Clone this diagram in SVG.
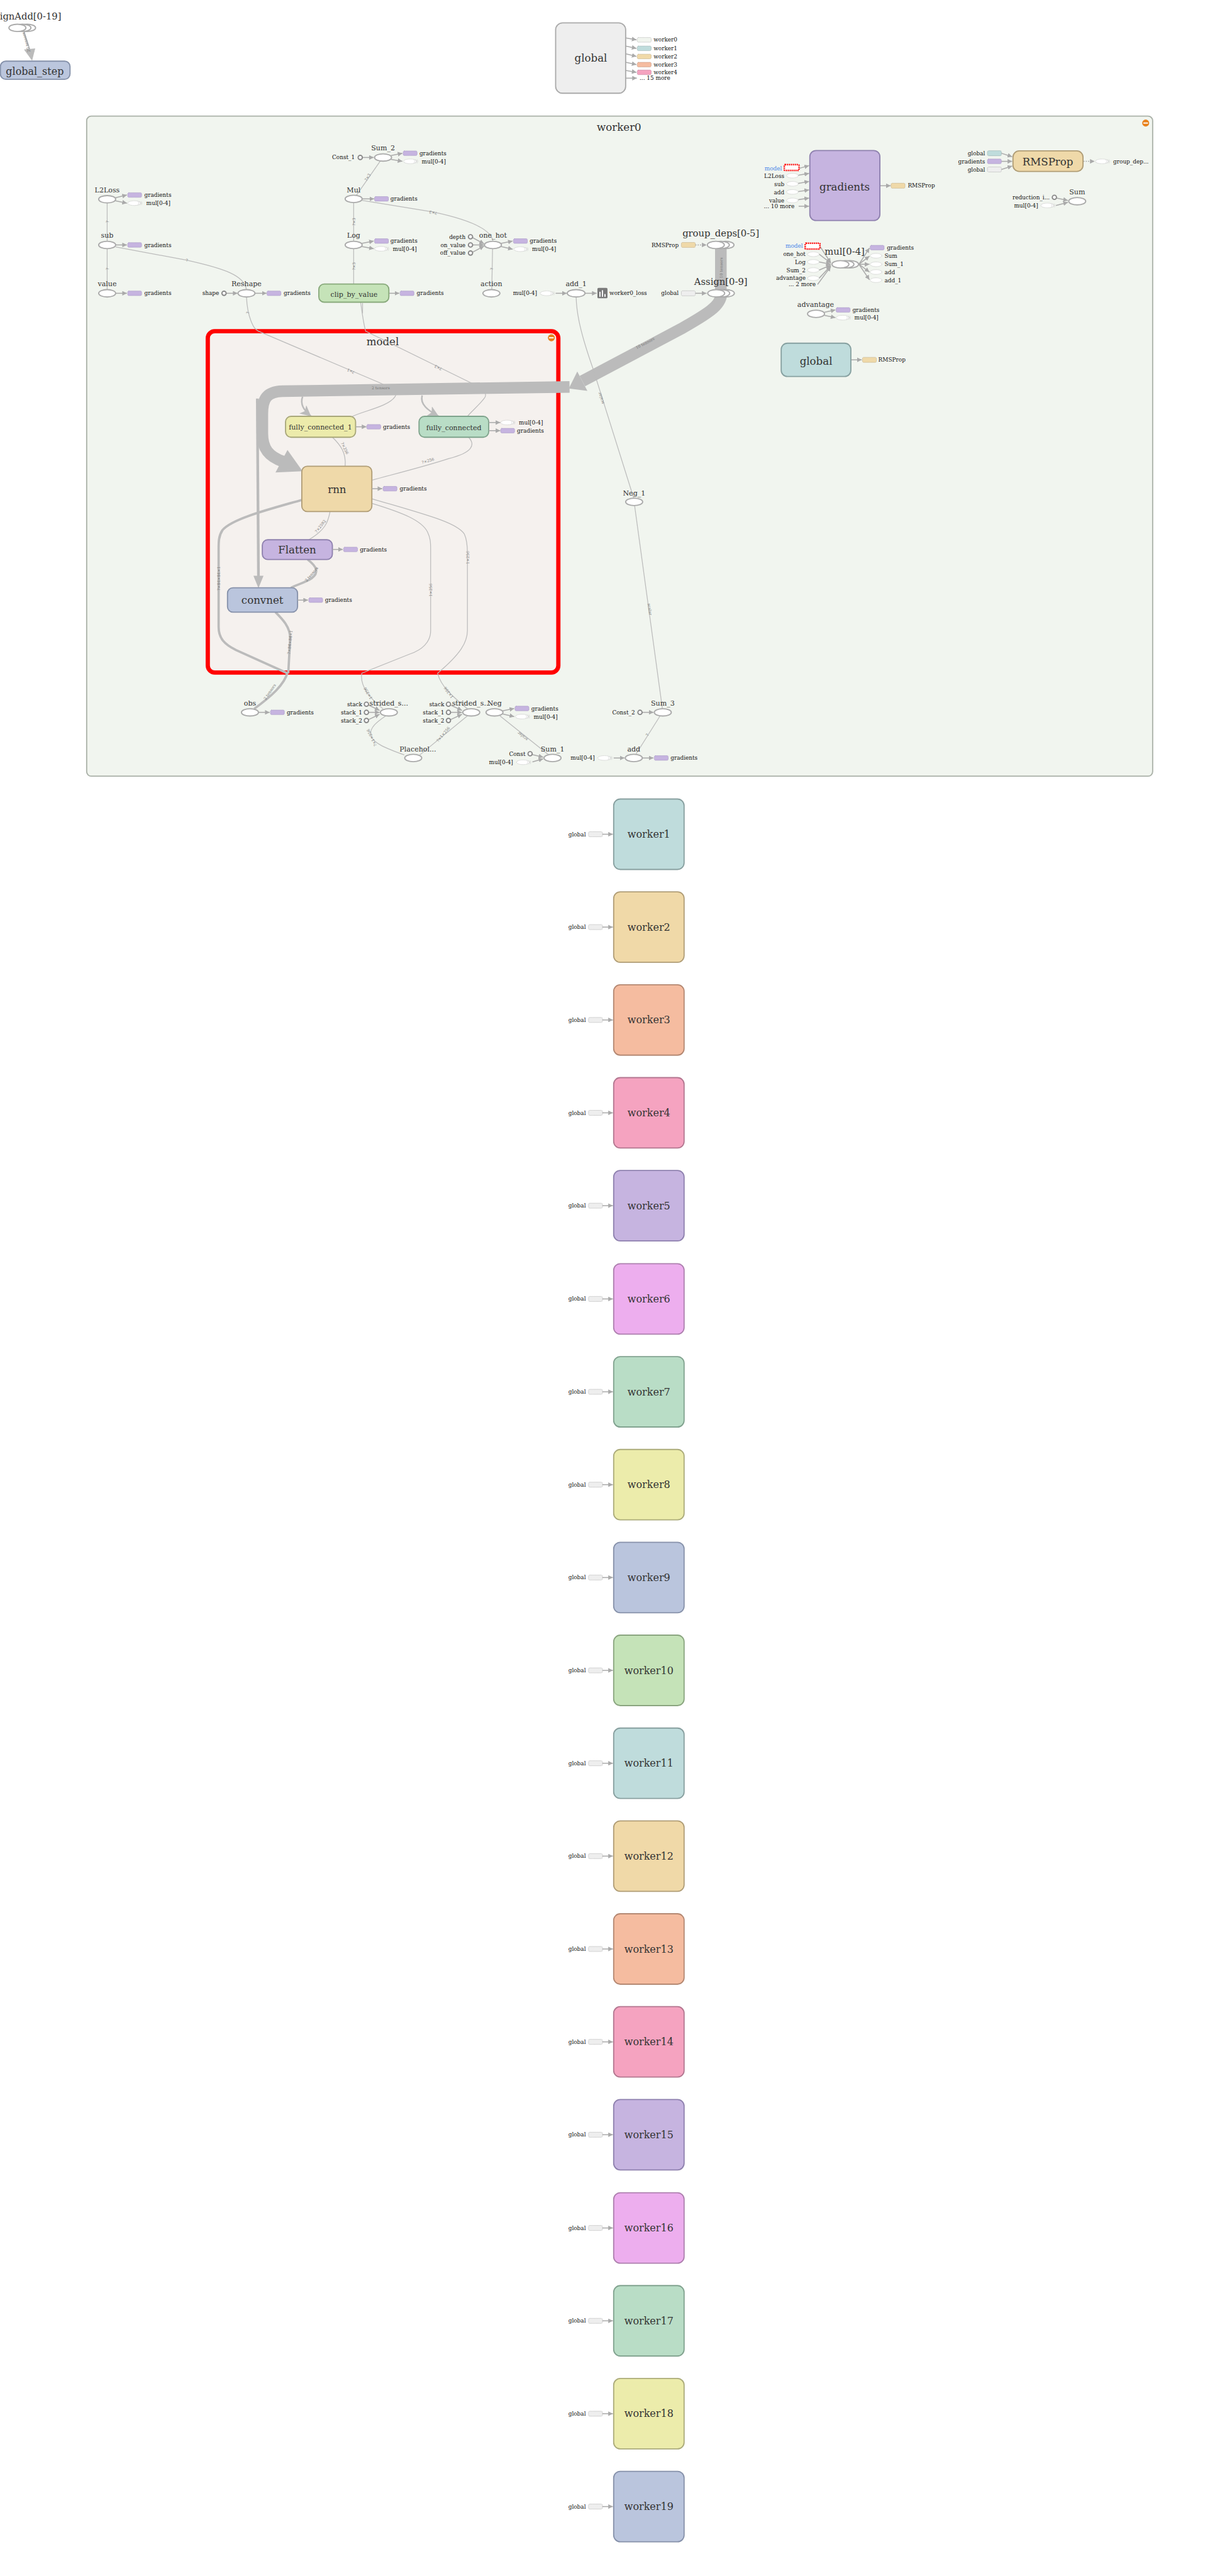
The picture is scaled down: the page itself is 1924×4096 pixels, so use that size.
<svg xmlns="http://www.w3.org/2000/svg" width="1924" height="4096" viewBox="0 0 1924 4096">
<style>
text{font-family:'DejaVu Serif','Liberation Serif',serif}
.e{fill:none;stroke:#bbb;stroke-width:2}
.a{fill:none;stroke:#aaa;stroke-width:2.5;marker-end:url(#ah)}
.d{fill:none;stroke:#aaa;stroke-width:2.5;stroke-dasharray:3 3;marker-end:url(#ah)}
.t6{fill:none;stroke:#bbb;stroke-width:6}
.band{fill:none;stroke:#bbb;stroke-width:30}
.op{fill:#fff;stroke:#aaa;stroke-width:3}
.k{fill:#fff;stroke:#888;stroke-width:3}
.nl{font-size:18px;fill:#333;text-anchor:middle}
.sl{font-size:24px;fill:#333;text-anchor:middle}
.ml{font-size:27px;fill:#333;text-anchor:middle}
.wl{font-size:26px;fill:#333;text-anchor:middle}
.lb{font-size:14.5px;fill:#111}
.r{text-anchor:end}
.el{font-size:10px;fill:#777;text-anchor:middle}
.wk{stroke-width:3}
</style>
<defs>
<marker id="ah" viewBox="0 0 10 10" refX="10" refY="5" markerWidth="12" markerHeight="12" markerUnits="userSpaceOnUse" orient="auto"><path d="M0,0L10,5L0,10z" fill="#aaa"/></marker>
<marker id="ahb" viewBox="0 0 10 10" refX="10" refY="5" markerWidth="28" markerHeight="28" markerUnits="userSpaceOnUse" orient="auto"><path d="M0,0L10,5L0,10L2.5,5z" fill="#bbb"/></marker>
<g id="cg"><rect x="-18" y="-6" width="36" height="12" rx="3" fill="#c6b4e0" stroke="#9a8cbb" stroke-width="1.3" stroke-dasharray="2 1.5"/></g>
<g id="cm"><ellipse cx="-3" rx="17" ry="6" fill="#fff" stroke="#bbb" stroke-width="1.3" stroke-dasharray="2 1.5"/><path d="M7,-5q4,5 0,10M11,-5q4,5 0,10M15,-5q4,5 0,10" fill="none" stroke="#ccc" stroke-width="1"/></g>
<g id="co"><ellipse rx="15" ry="6" fill="#fff" stroke="#bbb" stroke-width="1.3" stroke-dasharray="2 1.5"/></g>
<g id="ct"><rect x="-18" y="-6.5" width="36" height="13" rx="3" fill="#efd9a9" stroke="#b9a27a" stroke-width="1.3" stroke-dasharray="2 1.5"/></g>
<g id="cgl"><rect x="-18" y="-6.5" width="36" height="13" rx="3" fill="#eee" stroke="#aaa" stroke-width="1.3" stroke-dasharray="2 1.5"/></g>
<g id="cte"><rect x="-18" y="-6.5" width="36" height="13" rx="3" fill="#bfdcdc" stroke="#87a0a0" stroke-width="1.3" stroke-dasharray="2 1.5"/></g>
<g id="cmod"><rect x="-19" y="-7.5" width="38" height="15" rx="2" fill="#fff" stroke="#f00" stroke-width="4" stroke-dasharray="3 2"/></g>
<g id="stk"><ellipse cx="25" rx="22" ry="9.5" class="op"/><ellipse cx="13" rx="22" ry="9.5" class="op"/><ellipse rx="22" ry="9.5" class="op"/></g>
</defs>
<rect width="1924" height="4096" fill="#fff"/>
<g transform="scale(0.61525)">

<!-- containers -->
<g id="worker0">
<rect x="224" y="300" width="2755" height="1706" rx="12" fill="#f1f5ef" stroke="#aab1a8" stroke-width="3"/>
<text class="ml" x="1600" y="338">worker0</text>
<circle cx="2961" cy="318" r="9" fill="#e8821e"/><rect x="2955" y="316.5" width="12" height="3" fill="#fff"/>
</g>
<g id="model">
<rect x="537" y="856" width="906" height="882" rx="18" fill="#f5f1ee" stroke="#f00" stroke-width="11"/>
<text class="ml" x="989" y="893" font-size="26">model</text>
<circle cx="1425" cy="873" r="9" fill="#e8821e"/><rect x="1419" y="871.5" width="12" height="3" fill="#fff"/>
</g>

<g id="connectors">
<!-- top-left -->
<path d="M62 83L78 132" fill="none" stroke="#bbb" stroke-width="3.5"/>
<polygon points="62,128 91,125 83,157" fill="#bbb"/>
<text class="el" transform="rotate(-106,71,108)" x="71" y="108">20 tensors</text>
<!-- global outputs -->
<path class="a" d="M1617 98L1645 103"/><path class="a" d="M1617 119L1645 125"/><path class="a" d="M1617 139L1645 146"/><path class="a" d="M1617 161L1645 167"/><path class="a" d="M1617 182L1645 187"/><path class="a" d="M1617 202L1646 202"/>
<!-- left column -->
<path class="a" d="M298 511L328 504"/><path class="a" d="M298 519L328 525"/>
<path class="a" d="M299 633L328 633"/><path class="a" d="M299 758L328 758"/>
<path class="e" d="M277 524L277 624"/><text class="el" transform="rotate(-90,281,573)" x="281" y="573">?</text>
<path class="e" d="M277 642L277 749"/><text class="el" transform="rotate(-90,281,695)" x="281" y="695">?</text>
<path class="e" d="M299 638L480 672C580 694 632 712 637 749"/><text class="el" x="483" y="676">?</text>
<path class="a" d="M585 758L614 758"/><path class="a" d="M659 758L689 758"/>
<!-- middle column -->
<path class="a" d="M937 407L966 407"/><path class="a" d="M1011 402L1040 396"/><path class="a" d="M1011 412L1040 417"/>
<path class="a" d="M936 514L967 514"/>
<path class="e" d="M921 505L983 416"/><text class="el" transform="rotate(-58,953,460)" x="953" y="460">?×3</text>
<path class="e" d="M936 518L1120 548C1200 565 1270 590 1274 624"/><text class="el" transform="rotate(190,1120,546)" x="1120" y="546">?×3</text>
<path class="e" d="M914 523L914 624"/><text class="el" transform="rotate(-90,918,573)" x="918" y="573">?×3</text>
<path class="a" d="M935 629L966 623"/><path class="a" d="M935 637L966 643"/>
<path class="e" d="M914 642L914 734"/><text class="el" transform="rotate(-90,918,688)" x="918" y="688">?×3</text>
<path class="a" d="M1005 758L1032 758"/>
<path class="a" d="M1221 614L1251 630"/><path class="a" d="M1222 633L1251 633"/><path class="a" d="M1221 652L1251 636"/>
<path class="a" d="M1295 629L1325 623"/><path class="a" d="M1295 637L1325 644"/>
<path class="e" d="M1273 642L1271 749"/><text class="el" transform="rotate(-90,1275,695)" x="1275" y="695">?</text>
<path class="a" d="M1436 758L1465 758"/><path class="a" d="M1512 758L1542 758"/>
<!-- group_deps / Assign -->
<path class="d" d="M1797 633L1826 633"/><path class="a" d="M1797 758L1826 758"/>
<path class="band" d="M1863 642L1863 750"/>
<text class="el" transform="rotate(-90,1867,692)" x="1867" y="692">10 tensors</text>
<path class="band" d="M1864 762C1862 790 1830 810 1760 850L1505 985"/>
<polygon points="1470,1004 1492,960 1518,1010" fill="#bbb"/>
<text class="el" transform="rotate(-28,1669,890)" x="1669" y="890">10 tensors</text>
<!-- gradients inputs / outputs -->
<path class="a" d="M2066 435L2091 428"/><path class="a" d="M2063 453L2091 448"/><path class="a" d="M2063 474L2091 469"/><path class="a" d="M2063 495L2091 491"/><path class="a" d="M2063 516L2091 512"/><path class="a" d="M2064 533L2091 533"/>
<path class="a" d="M2274 480L2302 480"/>
<path class="a" d="M2588 396L2616 405"/><path class="a" d="M2588 417L2616 417"/><path class="a" d="M2588 438L2616 429"/>
<path class="d" d="M2800 417L2829 417"/>
<path class="a" d="M2731 512L2760 518"/><path class="a" d="M2729 531L2760 523"/>
<!-- mul[0-4] -->
<path class="a" d="M2120 638L2147 679"/><path class="a" d="M2117 657L2147 680"/><path class="a" d="M2117 677L2147 683"/><path class="a" d="M2117 698L2147 685"/><path class="a" d="M2117 719L2147 687"/><path class="a" d="M2113 735L2147 689"/>
<path class="a" d="M2220 683L2247 641"/><path class="a" d="M2220 683L2247 662"/><path class="a" d="M2220 683L2247 683"/><path class="a" d="M2220 683L2247 703"/><path class="a" d="M2220 683L2247 723"/>
<path class="a" d="M2131 807L2159 801"/><path class="a" d="M2131 815L2159 821"/>
<path class="a" d="M2199 930L2227 930"/>
<!-- model internals -->
<path class="e" d="M637 767C638 790 642 815 651 835C655 845 660 852 668 856L981 989C1010 1002 1030 1012 1021 1025C1005 1050 940 1062 911 1076"/>
<text class="el" transform="rotate(203,908,956)" x="908" y="956">?×1</text>
<text class="el" transform="rotate(-90,643,808)" x="643" y="808">?</text>
<path class="e" d="M932 781C935 800 938 830 945 856L1208 985C1240 1000 1265 1015 1251 1030C1240 1045 1220 1062 1208 1076"/>
<text class="el" transform="rotate(206,1134,947)" x="1134" y="947">?×3</text>
<path class="e" d="M937 783L937 810" />
<path class="band" d="M1472 1000L730 1011C690 1012 678 1030 678 1070L678 1120C678 1160 695 1180 732 1193"/>
<polygon points="743,1163 782,1218 712,1221" fill="#bbb"/>
<text class="el" x="984" y="1006">2 tensors</text>
<path d="M665 1030L668 1495" fill="none" stroke="#bbb" stroke-width="7"/>
<polygon points="655,1488 681,1488 668,1520" fill="#bbb"/>
<path d="M782 1025C775 1045 785 1060 804 1076" fill="none" stroke="#bbb" stroke-width="4" marker-end="url(#ahb)"/>
<path d="M1091 1022C1085 1045 1105 1060 1134 1076" fill="none" stroke="#bbb" stroke-width="4" marker-end="url(#ahb)"/>
<path class="e" d="M859 1130C880 1150 895 1170 892 1205"/><text class="el" transform="rotate(65,888,1160)" x="888" y="1160">?×256</text>
<path class="e" d="M1211 1130C1230 1150 1220 1170 1160 1185C1100 1205 1000 1230 961 1241"/><text class="el" transform="rotate(-16,1107,1194)" x="1107" y="1194">?×256</text>
<path class="e" d="M853 1322C848 1350 840 1370 798 1395"/><text class="el" transform="rotate(-52,831,1362)" x="831" y="1362">?×2592</text>
<path class="t6" d="M795 1446C820 1465 825 1480 805 1495C790 1505 770 1510 752 1519"/><text class="el" transform="rotate(-50,808,1486)" x="808" y="1486">2 tensors</text>
<path class="t6" d="M780 1292C700 1315 600 1340 575 1370C565 1385 565 1400 565 1420L565 1620C565 1650 580 1665 610 1680L743 1740"/>
<text class="el" transform="rotate(-90,569,1495)" x="569" y="1495">?×84×84×1</text>
<path class="t6" d="M712 1582C730 1600 750 1620 750 1650L745 1740"/>
<text class="el" transform="rotate(-84,753,1660)" x="753" y="1660">?×84×84×1</text>
<path class="t6" d="M743 1738C735 1770 700 1800 657 1832"/><text class="el" transform="rotate(-55,700,1790)" x="700" y="1790">2 tensors</text>
<path class="a" d="M668 1841L697 1841"/>
<path class="e" d="M961 1301C1040 1325 1090 1345 1105 1375C1112 1390 1113 1400 1113 1420L1113 1630C1113 1660 1090 1680 1060 1690L935 1740C930 1770 950 1800 990 1832"/>
<text class="el" transform="rotate(-90,1117,1525)" x="1117" y="1525">1×256</text>
<text class="el" transform="rotate(240,954,1790)" x="954" y="1790">1×256</text>
<path class="e" d="M961 1289C1100 1330 1180 1350 1200 1380C1207 1395 1208 1410 1208 1430L1208 1630C1208 1660 1190 1690 1131 1740C1140 1775 1170 1800 1208 1832"/>
<text class="el" transform="rotate(-90,1212,1441)" x="1212" y="1441">1×256</text>
<text class="el" transform="rotate(235,1162,1788)" x="1162" y="1788">1×256</text>
<!-- bottom -->
<path class="a" d="M952 1822L981 1836"/><path class="a" d="M953 1841L981 1841"/><path class="a" d="M952 1860L981 1846"/>
<path class="a" d="M1164 1822L1194 1836"/><path class="a" d="M1165 1841L1194 1841"/><path class="a" d="M1164 1860L1194 1846"/>
<path class="e" d="M997 1850C975 1865 955 1880 958 1900C962 1920 1000 1935 1045 1951"/><text class="el" transform="rotate(245,964,1905)" x="964" y="1905">?×1×256</text>
<path class="e" d="M1208 1850L1085 1951"/><text class="el" transform="rotate(-50,1148,1900)" x="1148" y="1900">?×1×256</text>
<path class="a" d="M1299 1837L1329 1831"/><path class="a" d="M1299 1845L1329 1852"/>
<path class="e" d="M1292 1850L1418 1951"/><text class="el" transform="rotate(219,1353,1900)" x="1353" y="1900">scalar</text>
<path class="a" d="M1375 1950L1404 1957"/><path class="a" d="M1376 1969L1404 1961"/>
<path class="a" d="M1586 1959L1614 1959"/><path class="a" d="M1661 1959L1689 1959"/>
<path class="e" d="M1643 1950L1706 1850"/><text class="el" transform="rotate(-60,1676,1901)" x="1676" y="1901">?</text>
<path class="a" d="M1660 1841L1689 1841"/>
<path class="e" d="M1489 767C1490 810 1500 860 1532 951L1638 1288"/><text class="el" transform="rotate(253,1557,1028)" x="1557" y="1028">scalar</text>
<path class="e" d="M1640 1306L1712 1832"/><text class="el" transform="rotate(82,1676,1575)" x="1676" y="1575">scalar</text>
<!-- workers -->
<path class="a" d="M1557 2156H1584"/><path class="a" d="M1557 2396H1584"/><path class="a" d="M1557 2636H1584"/><path class="a" d="M1557 2876H1584"/><path class="a" d="M1557 3116H1584"/><path class="a" d="M1557 3357H1584"/><path class="a" d="M1557 3597H1584"/><path class="a" d="M1557 3837H1584"/><path class="a" d="M1557 4077H1584"/><path class="a" d="M1557 4317H1584"/><path class="a" d="M1557 4557H1584"/><path class="a" d="M1557 4797H1584"/><path class="a" d="M1557 5037H1584"/><path class="a" d="M1557 5277H1584"/><path class="a" d="M1557 5517H1584"/><path class="a" d="M1557 5758H1584"/><path class="a" d="M1557 5998H1584"/><path class="a" d="M1557 6238H1584"/><path class="a" d="M1557 6478H1584"/>
</g>

<!-- top-left -->
<g id="AssignAdd"><use href="#stk" x="45" y="72"/><text class="sl" x="58" y="51" font-size="23">AssignAdd[0-19]</text></g>
<g id="global_step"><rect x="1" y="158" width="180" height="47" rx="14" fill="#bbc6dd" stroke="#8591aa" stroke-width="3"/><text class="wl" x="90" y="193">global_step</text></g>

<g id="global"><rect x="1436" y="59" width="181" height="182" rx="18" fill="#eee" stroke="#aaa" stroke-width="3"/><text class="ml" x="1527" y="160" font-size="28">global</text>
<rect x="1647" y="97" width="36" height="12" rx="3" fill="#f1f5ef" stroke="#aaa" stroke-width="1.3" stroke-dasharray="2 1.5"/>
<rect x="1647" y="119" width="36" height="12" rx="3" fill="#bfdcdc" stroke="#87a0a0" stroke-width="1.3" stroke-dasharray="2 1.5"/>
<rect x="1647" y="140" width="36" height="12" rx="3" fill="#f0d9a8" stroke="#b09d76" stroke-width="1.3" stroke-dasharray="2 1.5"/>
<rect x="1647" y="161" width="36" height="12" rx="3" fill="#f5bca0" stroke="#b48872" stroke-width="1.3" stroke-dasharray="2 1.5"/>
<rect x="1647" y="181" width="36" height="12" rx="3" fill="#f5a3c0" stroke="#b37790" stroke-width="1.3" stroke-dasharray="2 1.5"/>
<text class="lb" x="1689" y="108">worker0</text><text class="lb" x="1689" y="130">worker1</text><text class="lb" x="1689" y="151">worker2</text><text class="lb" x="1689" y="172">worker3</text><text class="lb" x="1689" y="192">worker4</text><text class="lb" x="1653" y="207">... 15 more</text>
</g>

<!-- worker0 left -->
<g id="L2Loss"><ellipse class="op" cx="277" cy="515" rx="22" ry="9.5"/><text class="nl" x="277" y="497">L2Loss</text>
<use href="#cg" x="348" y="504"/><text class="lb" x="373" y="509">gradients</text><use href="#cm" x="350" y="525"/><text class="lb" x="378" y="530">mul[0-4]</text></g>
<g id="sub"><ellipse class="op" cx="277" cy="633" rx="22" ry="9.5"/><text class="nl" x="277" y="615">sub</text>
<use href="#cg" x="348" y="633"/><text class="lb" x="373" y="638">gradients</text></g>
<g id="value"><ellipse class="op" cx="277" cy="758" rx="22" ry="9.5"/><text class="nl" x="277" y="740">value</text>
<use href="#cg" x="348" y="758"/><text class="lb" x="373" y="763">gradients</text></g>
<g id="Reshape"><ellipse class="op" cx="637" cy="758" rx="22" ry="9.5"/><text class="nl" x="637" y="740">Reshape</text>
<circle class="k" cx="579" cy="758" r="5.5"/><text class="lb r" x="566" y="763">shape</text>
<use href="#cg" x="708" y="758"/><text class="lb" x="733" y="763">gradients</text></g>
<g id="Sum_2"><ellipse class="op" cx="990" cy="407" rx="22" ry="9.5"/><text class="nl" x="990" y="389">Sum_2</text>
<circle class="k" cx="931" cy="407" r="5.5"/><text class="lb r" x="917" y="412">Const_1</text>
<use href="#cg" x="1060" y="396"/><text class="lb" x="1084" y="401">gradients</text><use href="#cm" x="1063" y="417"/><text class="lb" x="1090" y="422">mul[0-4]</text></g>
<g id="Mul"><ellipse class="op" cx="914" cy="514" rx="22" ry="9.5"/><text class="nl" x="914" y="497">Mul</text>
<use href="#cg" x="986" y="514"/><text class="lb" x="1009" y="519">gradients</text></g>
<g id="Log"><ellipse class="op" cx="914" cy="633" rx="22" ry="9.5"/><text class="nl" x="914" y="615">Log</text>
<use href="#cg" x="986" y="623"/><text class="lb" x="1009" y="628">gradients</text><use href="#cm" x="988" y="643"/><text class="lb" x="1015" y="648">mul[0-4]</text></g>
<g id="clip_by_value"><rect x="824" y="734" width="181" height="47" rx="14" fill="#c5e3b8" stroke="#88a97b" stroke-width="3"/><text class="nl" x="915" y="767" font-size="23">clip_by_value</text>
<use href="#cg" x="1052" y="758"/><text class="lb" x="1077" y="763">gradients</text></g>
<g id="one_hot"><ellipse class="op" cx="1274" cy="633" rx="22" ry="9.5"/><text class="nl" x="1274" y="615">one_hot</text>
<circle class="k" cx="1216" cy="612" r="5.5"/><circle class="k" cx="1216" cy="633" r="5.5"/><circle class="k" cx="1216" cy="654" r="5.5"/>
<text class="lb r" x="1203" y="617">depth</text><text class="lb r" x="1203" y="638">on_value</text><text class="lb r" x="1203" y="659">off_value</text>
<use href="#cg" x="1345" y="623"/><text class="lb" x="1369" y="628">gradients</text><use href="#cm" x="1348" y="644"/><text class="lb" x="1375" y="649">mul[0-4]</text></g>
<g id="action"><ellipse class="op" cx="1270" cy="758" rx="22" ry="9.5"/><text class="nl" x="1270" y="740">action</text></g>
<g id="add_1"><ellipse class="op" cx="1489" cy="758" rx="23" ry="9.5"/><text class="nl" x="1489" y="740">add_1</text>
<use href="#cm" x="1416" y="758"/><text class="lb r" x="1388" y="763">mul[0-4]</text>
<rect x="1544" y="744" width="26" height="27" rx="3" fill="#7a7a7a"/><rect x="1549" y="754" width="3" height="13" fill="#fff"/><rect x="1555.5" y="750" width="3" height="17" fill="#fff"/><rect x="1562" y="760" width="3" height="7" fill="#fff"/>
<text class="lb" x="1575" y="763">worker0_loss</text></g>
<g id="group_deps"><use href="#stk" x="1850" y="633"/><text class="sl" x="1863" y="611">group_deps[0-5]</text>
<use href="#ct" x="1779" y="633"/><text class="lb r" x="1754" y="638">RMSProp</text></g>
<g id="Assign"><use href="#stk" x="1851" y="758"/><text class="sl" x="1863" y="736">Assign[0-9]</text>
<use href="#cgl" x="1779" y="758"/><text class="lb r" x="1754" y="763">global</text></g>

<!-- right -->
<g id="gradients"><rect x="2093" y="389" width="181" height="181" rx="16" fill="#c6b4e0" stroke="#8e80ae" stroke-width="3"/><text class="ml" x="2183" y="492">gradients</text>
<text class="lb r" x="2021" y="440" fill="#4a86e8" style="fill:#4a86e8">model</text><use href="#cmod" x="2046" y="433"/>
<use href="#co" x="2048" y="454"/><text class="lb r" x="2027" y="460">L2Loss</text>
<use href="#co" x="2048" y="475"/><text class="lb r" x="2027" y="481">sub</text>
<use href="#co" x="2048" y="496"/><text class="lb r" x="2027" y="502">add</text>
<use href="#co" x="2048" y="518"/><text class="lb r" x="2027" y="523">value</text>
<text class="lb" x="1974" y="538">... 10 more</text>
<use href="#ct" x="2321" y="480"/><text class="lb" x="2346" y="485">RMSProp</text></g>
<g id="RMSProp"><rect x="2618" y="390" width="181" height="53" rx="16" fill="#efd9a9" stroke="#b09d76" stroke-width="3"/><text class="ml" x="2708" y="427">RMSProp</text>
<use href="#cte" x="2570" y="396"/><text class="lb r" x="2546" y="401">global</text>
<rect x="2552" y="411" width="36" height="12" rx="3" fill="#c6b4e0" stroke="#9a8cbb" stroke-width="1.3" stroke-dasharray="2 1.5"/><text class="lb r" x="2546" y="422">gradients</text>
<use href="#cgl" x="2570" y="438"/><text class="lb r" x="2546" y="443">global</text>
<use href="#cm" x="2851" y="417"/><text class="lb" x="2877" y="422">group_dep...</text></g>
<g id="Sum"><ellipse class="op" cx="2784" cy="520" rx="22" ry="9.5"/><text class="nl" x="2784" y="502">Sum</text>
<circle class="k" cx="2725" cy="510" r="5.5"/><text class="lb r" x="2713" y="515">reduction_i...</text>
<use href="#cm" x="2710" y="531"/><text class="lb r" x="2683" y="536">mul[0-4]</text></g>
<g id="mul"><use href="#stk" x="2172" y="683"/><text class="sl" x="2183" y="658">mul[0-4]</text>
<text class="lb r" x="2075" y="641" style="fill:#4a86e8">model</text><use href="#cmod" x="2100" y="636"/>
<use href="#co" x="2102" y="657"/><text class="lb r" x="2082" y="662">one_hot</text>
<use href="#co" x="2102" y="677"/><text class="lb r" x="2082" y="682">Log</text>
<use href="#co" x="2102" y="698"/><text class="lb r" x="2082" y="703">Sum_2</text>
<use href="#co" x="2102" y="719"/><text class="lb r" x="2082" y="724">advantage</text>
<text class="lb" x="2038" y="740">... 2 more</text>
<use href="#cg" x="2267" y="640"/><text class="lb" x="2292" y="645">gradients</text>
<use href="#co" x="2264" y="661"/><text class="lb" x="2286" y="666">Sum</text>
<use href="#co" x="2264" y="683"/><text class="lb" x="2286" y="688">Sum_1</text>
<use href="#co" x="2264" y="703"/><text class="lb" x="2286" y="708">add</text>
<use href="#co" x="2264" y="724"/><text class="lb" x="2286" y="729">add_1</text></g>
<g id="advantage"><ellipse class="op" cx="2109" cy="811" rx="22" ry="9.5"/><text class="nl" x="2108" y="793">advantage</text>
<use href="#cg" x="2179" y="801"/><text class="lb" x="2203" y="806">gradients</text><use href="#cm" x="2181" y="821"/><text class="lb" x="2208" y="826">mul[0-4]</text></g>
<g id="global_w0"><rect x="2019" y="887" width="180" height="86" rx="16" fill="#bfdcdc" stroke="#86a0a0" stroke-width="3"/><text class="ml" x="2109" y="943">global</text>
<use href="#ct" x="2247" y="930"/><text class="lb" x="2270" y="935">RMSProp</text></g>

<!-- model nodes -->
<g id="fully_connected_1"><rect x="738" y="1076" width="181" height="54" rx="14" fill="#ecebab" stroke="#a8a77a" stroke-width="3"/><text class="nl" x="828" y="1110" font-size="19">fully_connected_1</text>
<path class="a" d="M919 1103L947 1103"/><use href="#cg" x="966" y="1103"/><text class="lb" x="990" y="1108">gradients</text></g>
<g id="fully_connected"><rect x="1083" y="1076" width="180" height="54" rx="14" fill="#b9ddc6" stroke="#7fa38c" stroke-width="3"/><text class="nl" x="1173" y="1111" font-size="21">fully_connected</text>
<path class="a" d="M1263 1092L1293 1092"/><path class="a" d="M1263 1113L1293 1113"/>
<use href="#cm" x="1314" y="1092"/><text class="lb" x="1341" y="1097">mul[0-4]</text><use href="#cg" x="1312" y="1113"/><text class="lb" x="1336" y="1118">gradients</text></g>
<g id="rnn"><rect x="780" y="1205" width="181" height="117" rx="14" fill="#efd9a9" stroke="#b09d76" stroke-width="3"/><text class="ml" x="871" y="1274" font-size="30">rnn</text>
<path class="a" d="M961 1263L988 1263"/><use href="#cg" x="1008" y="1263"/><text class="lb" x="1033" y="1268">gradients</text></g>
<g id="Flatten"><rect x="678" y="1395" width="181" height="51" rx="14" fill="#c6b4e0" stroke="#8e80ae" stroke-width="3"/><text class="ml" x="768" y="1430">Flatten</text>
<path class="a" d="M859 1420L886 1420"/><use href="#cg" x="906" y="1420"/><text class="lb" x="930" y="1425">gradients</text></g>
<g id="convnet"><rect x="588" y="1519" width="181" height="63" rx="14" fill="#bac5dd" stroke="#8691aa" stroke-width="3"/><text class="ml" x="678" y="1560">convnet</text>
<path class="a" d="M769 1551L796 1551"/><use href="#cg" x="816" y="1551"/><text class="lb" x="840" y="1556">gradients</text></g>

<!-- below model -->
<g id="obs"><ellipse class="op" cx="646" cy="1841" rx="22" ry="9.5"/><text class="nl" x="646" y="1823">obs</text>
<use href="#cg" x="717" y="1841"/><text class="lb" x="741" y="1846">gradients</text></g>
<g id="strided_slice"><ellipse class="op" cx="1005" cy="1841" rx="22" ry="9.5"/><text class="nl" x="1005" y="1823">strided_s...</text>
<circle class="k" cx="947" cy="1820" r="5.5"/><circle class="k" cx="947" cy="1841" r="5.5"/><circle class="k" cx="947" cy="1862" r="5.5"/>
<text class="lb r" x="936" y="1825">stack</text><text class="lb r" x="936" y="1846">stack_1</text><text class="lb r" x="936" y="1867">stack_2</text></g>
<g id="strided_slice_1"><ellipse class="op" cx="1218" cy="1841" rx="22" ry="9.5"/><text class="nl" x="1218" y="1823">strided_s...</text>
<circle class="k" cx="1159" cy="1820" r="5.5"/><circle class="k" cx="1159" cy="1841" r="5.5"/><circle class="k" cx="1159" cy="1862" r="5.5"/>
<text class="lb r" x="1148" y="1825">stack</text><text class="lb r" x="1148" y="1846">stack_1</text><text class="lb r" x="1148" y="1867">stack_2</text></g>
<g id="Neg"><ellipse class="op" cx="1278" cy="1841" rx="22" ry="9.5"/><text class="nl" x="1278" y="1823">Neg</text>
<use href="#cg" x="1349" y="1831"/><text class="lb" x="1373" y="1836">gradients</text><use href="#cm" x="1352" y="1852"/><text class="lb" x="1379" y="1857">mul[0-4]</text></g>
<g id="Placeholder"><ellipse class="op" cx="1068" cy="1959" rx="22" ry="9.5"/><text class="nl" x="1080" y="1942">Placehol...</text></g>
<g id="Sum_1"><ellipse class="op" cx="1428" cy="1959" rx="22" ry="9.5"/><text class="nl" x="1428" y="1942">Sum_1</text>
<circle class="k" cx="1370" cy="1948" r="5.5"/><text class="lb r" x="1358" y="1953">Const</text>
<use href="#cm" x="1355" y="1970"/><text class="lb r" x="1326" y="1975">mul[0-4]</text></g>
<g id="add"><ellipse class="op" cx="1638" cy="1959" rx="22" ry="9.5"/><text class="nl" x="1638" y="1942">add</text>
<use href="#cm" x="1565" y="1959"/><text class="lb r" x="1537" y="1964">mul[0-4]</text>
<use href="#cg" x="1709" y="1959"/><text class="lb" x="1733" y="1964">gradients</text></g>
<g id="Sum_3"><ellipse class="op" cx="1713" cy="1841" rx="22" ry="9.5"/><text class="nl" x="1713" y="1823">Sum_3</text>
<circle class="k" cx="1654" cy="1841" r="5.5"/><text class="lb r" x="1641" y="1846">Const_2</text></g>
<g id="Neg_1"><ellipse class="op" cx="1639" cy="1297" rx="22" ry="9.5"/><text class="nl" x="1639" y="1280">Neg_1</text></g>

<!-- workers -->
<g id="worker1"><rect class="wk" x="1586" y="2065" width="182" height="182" rx="17" fill="#bfdcdc" stroke="#879f9f"/><text class="wl" x="1677" y="2165">worker1</text><use href="#cgl" x="1539" y="2156"/><text class="lb r" x="1514" y="2161">global</text></g>
<g id="worker2"><rect class="wk" x="1586" y="2305" width="182" height="182" rx="17" fill="#f0d9a8" stroke="#b09d76"/><text class="wl" x="1677" y="2405">worker2</text><use href="#cgl" x="1539" y="2396"/><text class="lb r" x="1514" y="2401">global</text></g>
<g id="worker3"><rect class="wk" x="1586" y="2545" width="182" height="182" rx="17" fill="#f5bca0" stroke="#b48872"/><text class="wl" x="1677" y="2645">worker3</text><use href="#cgl" x="1539" y="2636"/><text class="lb r" x="1514" y="2641">global</text></g>
<g id="worker4"><rect class="wk" x="1586" y="2785" width="182" height="182" rx="17" fill="#f5a3c0" stroke="#b37790"/><text class="wl" x="1677" y="2885">worker4</text><use href="#cgl" x="1539" y="2876"/><text class="lb r" x="1514" y="2881">global</text></g>
<g id="worker5"><rect class="wk" x="1586" y="3025" width="182" height="182" rx="17" fill="#c6b4e0" stroke="#8e80ae"/><text class="wl" x="1677" y="3125">worker5</text><use href="#cgl" x="1539" y="3116"/><text class="lb r" x="1514" y="3121">global</text></g>
<g id="worker6"><rect class="wk" x="1586" y="3266" width="182" height="182" rx="17" fill="#edaeee" stroke="#ad7fae"/><text class="wl" x="1677" y="3366">worker6</text><use href="#cgl" x="1539" y="3357"/><text class="lb r" x="1514" y="3362">global</text></g>
<g id="worker7"><rect class="wk" x="1586" y="3506" width="182" height="182" rx="17" fill="#b9ddc6" stroke="#81a28f"/><text class="wl" x="1677" y="3606">worker7</text><use href="#cgl" x="1539" y="3597"/><text class="lb r" x="1514" y="3602">global</text></g>
<g id="worker8"><rect class="wk" x="1586" y="3746" width="182" height="182" rx="17" fill="#ececab" stroke="#abab7a"/><text class="wl" x="1677" y="3846">worker8</text><use href="#cgl" x="1539" y="3837"/><text class="lb r" x="1514" y="3842">global</text></g>
<g id="worker9"><rect class="wk" x="1586" y="3986" width="182" height="182" rx="17" fill="#bac5dd" stroke="#8691aa"/><text class="wl" x="1677" y="4086">worker9</text><use href="#cgl" x="1539" y="4077"/><text class="lb r" x="1514" y="4082">global</text></g>
<g id="worker10"><rect class="wk" x="1586" y="4226" width="182" height="182" rx="17" fill="#c5e3b8" stroke="#8aa57f"/><text class="wl" x="1677" y="4326">worker10</text><use href="#cgl" x="1539" y="4317"/><text class="lb r" x="1514" y="4322">global</text></g>
<g id="worker11"><rect class="wk" x="1586" y="4466" width="182" height="182" rx="17" fill="#bfdcdc" stroke="#879f9f"/><text class="wl" x="1677" y="4566">worker11</text><use href="#cgl" x="1539" y="4557"/><text class="lb r" x="1514" y="4562">global</text></g>
<g id="worker12"><rect class="wk" x="1586" y="4706" width="182" height="182" rx="17" fill="#f0d9a8" stroke="#b09d76"/><text class="wl" x="1677" y="4806">worker12</text><use href="#cgl" x="1539" y="4797"/><text class="lb r" x="1514" y="4802">global</text></g>
<g id="worker13"><rect class="wk" x="1586" y="4946" width="182" height="182" rx="17" fill="#f5bca0" stroke="#b48872"/><text class="wl" x="1677" y="5046">worker13</text><use href="#cgl" x="1539" y="5037"/><text class="lb r" x="1514" y="5042">global</text></g>
<g id="worker14"><rect class="wk" x="1586" y="5186" width="182" height="182" rx="17" fill="#f5a3c0" stroke="#b37790"/><text class="wl" x="1677" y="5286">worker14</text><use href="#cgl" x="1539" y="5277"/><text class="lb r" x="1514" y="5282">global</text></g>
<g id="worker15"><rect class="wk" x="1586" y="5426" width="182" height="182" rx="17" fill="#c6b4e0" stroke="#8e80ae"/><text class="wl" x="1677" y="5526">worker15</text><use href="#cgl" x="1539" y="5517"/><text class="lb r" x="1514" y="5522">global</text></g>
<g id="worker16"><rect class="wk" x="1586" y="5667" width="182" height="182" rx="17" fill="#edaeee" stroke="#ad7fae"/><text class="wl" x="1677" y="5767">worker16</text><use href="#cgl" x="1539" y="5758"/><text class="lb r" x="1514" y="5763">global</text></g>
<g id="worker17"><rect class="wk" x="1586" y="5907" width="182" height="182" rx="17" fill="#b9ddc6" stroke="#81a28f"/><text class="wl" x="1677" y="6007">worker17</text><use href="#cgl" x="1539" y="5998"/><text class="lb r" x="1514" y="6003">global</text></g>
<g id="worker18"><rect class="wk" x="1586" y="6147" width="182" height="182" rx="17" fill="#ececab" stroke="#abab7a"/><text class="wl" x="1677" y="6247">worker18</text><use href="#cgl" x="1539" y="6238"/><text class="lb r" x="1514" y="6243">global</text></g>
<g id="worker19"><rect class="wk" x="1586" y="6387" width="182" height="182" rx="17" fill="#bac5dd" stroke="#8691aa"/><text class="wl" x="1677" y="6487">worker19</text><use href="#cgl" x="1539" y="6478"/><text class="lb r" x="1514" y="6483">global</text></g>

</g>
</svg>
